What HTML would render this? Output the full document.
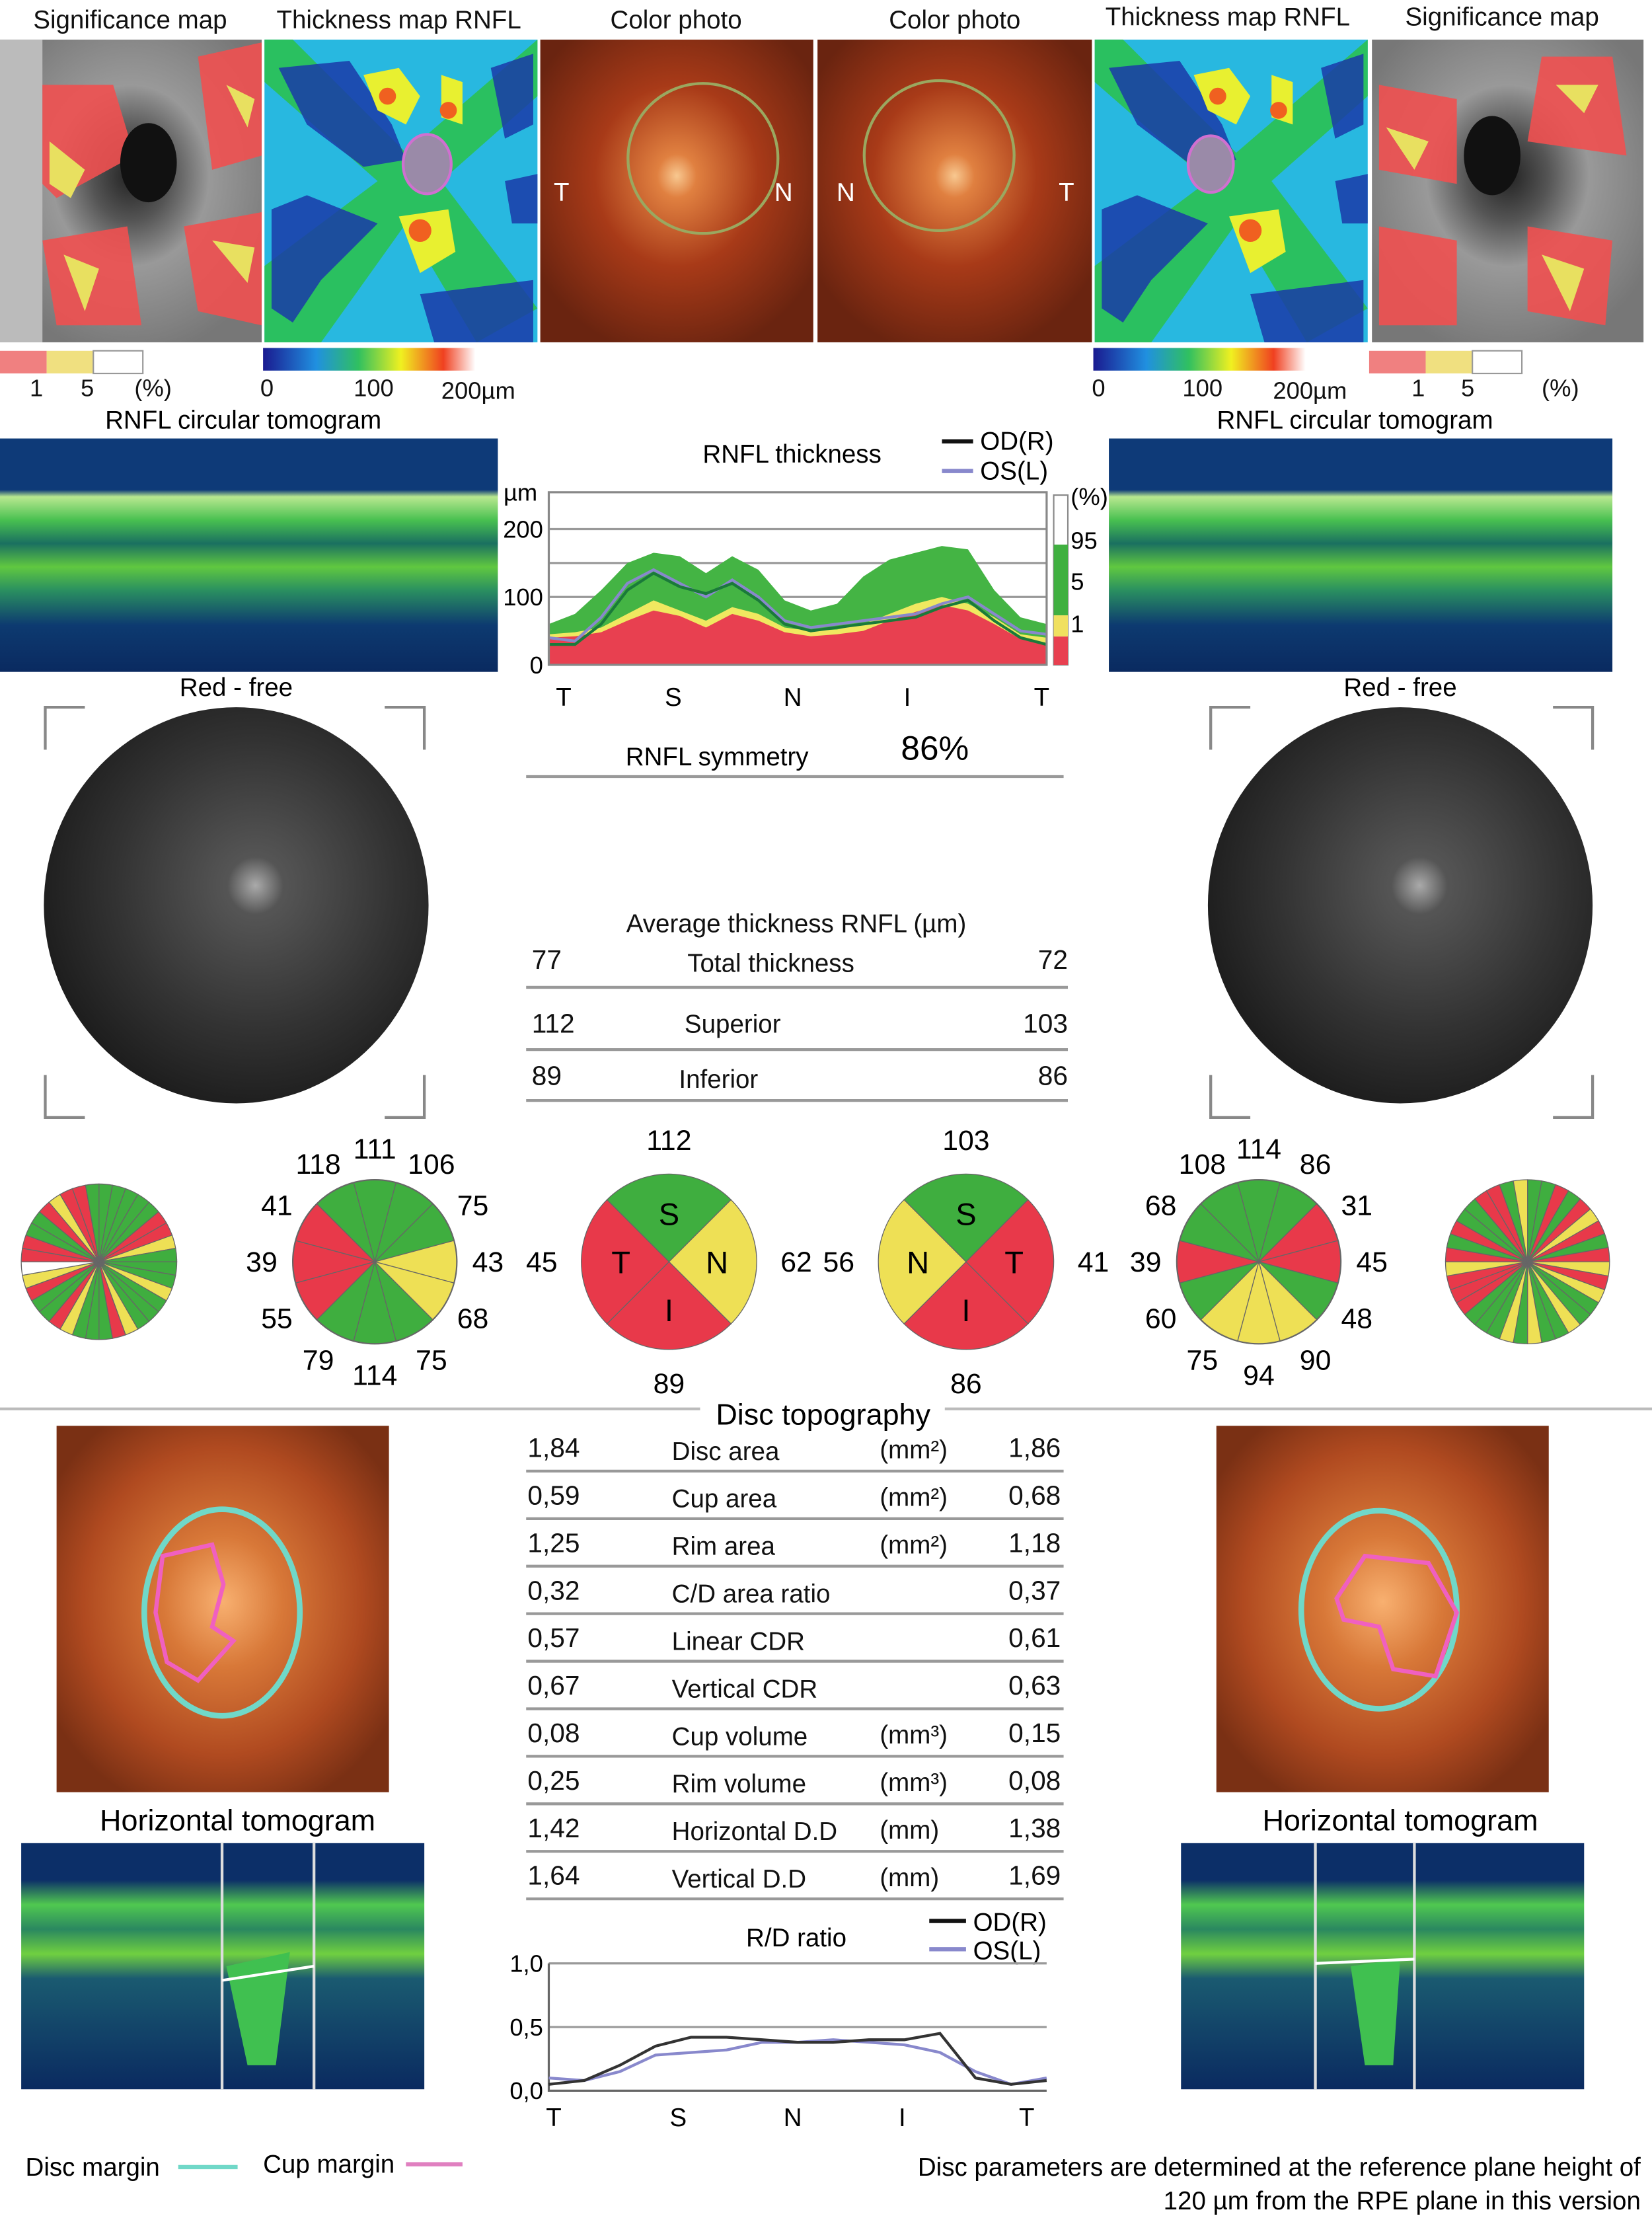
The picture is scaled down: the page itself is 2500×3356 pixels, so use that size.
<!DOCTYPE html>
<html><head><meta charset="utf-8"><style>
html,body{margin:0;padding:0;background:#fff}
svg{display:block;font-family:"Liberation Sans",sans-serif}
</style></head><body>
<svg id="page" width="2500" height="3356" viewBox="0 0 1168 1568" preserveAspectRatio="none">
<defs>
<radialGradient id="photo" cx="0.5" cy="0.45" r="0.6"><stop offset="0" stop-color="#f8c890"/><stop offset="0.12" stop-color="#e08040"/><stop offset="0.5" stop-color="#a83a18"/><stop offset="1" stop-color="#6a2410"/></radialGradient>
<radialGradient id="disc" cx="0.5" cy="0.48" r="0.6"><stop offset="0" stop-color="#f8b070"/><stop offset="0.3" stop-color="#d87838"/><stop offset="0.7" stop-color="#b04a20"/><stop offset="1" stop-color="#7a3014"/></radialGradient>
<radialGradient id="fund" cx="0.55" cy="0.45" r="0.6"><stop offset="0" stop-color="#aaa"/><stop offset="0.12" stop-color="#555"/><stop offset="0.6" stop-color="#333"/><stop offset="1" stop-color="#1a1a1a"/></radialGradient>
<radialGradient id="sig" cx="0.5" cy="0.45" r="0.6"><stop offset="0" stop-color="#222"/><stop offset="0.25" stop-color="#555"/><stop offset="0.5" stop-color="#999"/><stop offset="1" stop-color="#777"/></radialGradient>
<linearGradient id="tomo" x1="0" y1="0" x2="0" y2="1"><stop offset="0" stop-color="#0e3a78"/><stop offset="0.22" stop-color="#0e3a78"/><stop offset="0.25" stop-color="#b8e890"/><stop offset="0.35" stop-color="#48c050"/><stop offset="0.45" stop-color="#1a7060"/><stop offset="0.55" stop-color="#60c840"/><stop offset="0.65" stop-color="#2a9060"/><stop offset="0.8" stop-color="#0d3a70"/><stop offset="1" stop-color="#0a2a60"/></linearGradient>
<linearGradient id="htomo" x1="0" y1="0" x2="0" y2="1"><stop offset="0" stop-color="#0c2f68"/><stop offset="0.15" stop-color="#0c2f68"/><stop offset="0.25" stop-color="#50c850"/><stop offset="0.35" stop-color="#2a8860"/><stop offset="0.45" stop-color="#70d040"/><stop offset="0.55" stop-color="#1a5a70"/><stop offset="1" stop-color="#0a2a60"/></linearGradient>
<linearGradient id="cbar" x1="0" x2="1"><stop offset="0" stop-color="#1a1a90"/><stop offset="0.25" stop-color="#2090e0"/><stop offset="0.45" stop-color="#30c060"/><stop offset="0.65" stop-color="#f0f020"/><stop offset="0.85" stop-color="#f04020"/><stop offset="1" stop-color="#fff"/></linearGradient>
<g id="tmap">
<rect x="0" y="0" width="193" height="214" fill="#28b8e0"/>
<path d="M20 0 L100 80 L193 0 L193 40 L125 100 L193 190 L150 214 L100 130 L40 214 L0 214 L0 160 L80 100 L0 30 L0 0Z" fill="#2ac060"/>
<path d="M10 20 L60 15 L90 60 L100 85 L70 90 L30 60Z M5 120 L30 110 L80 130 L40 170 L20 200 L5 190Z M160 20 L190 10 L190 60 L170 70Z M110 180 L190 170 L190 214 L120 214Z M170 100 L193 95 L193 130 L175 130Z" fill="#1a3aa8" opacity="0.85"/>
<path d="M70 25 L95 20 L110 40 L100 60 L80 50Z M125 25 L140 30 L140 60 L125 55Z M95 125 L130 120 L135 150 L110 165Z" fill="#e8f030"/>
<circle cx="87" cy="40" r="6" fill="#f06020"/><circle cx="130" cy="50" r="6" fill="#f06020"/><circle cx="110" cy="135" r="8" fill="#f06020"/>
</g>
</defs>

<g font-size="18" fill="#111" text-anchor="middle">
<text x="92" y="20">Significance map</text>
<text x="282" y="20">Thickness map RNFL</text>
<text x="478" y="20">Color photo</text>
<text x="675" y="20">Color photo</text>
<text x="868" y="18">Thickness map RNFL</text>
<text x="1062" y="18">Significance map</text>
</g>

<g>
<rect x="0" y="28" width="185" height="214" fill="url(#sig)"/>
<rect x="0" y="28" width="30" height="214" fill="#bbb"/>
<path d="M30 60 L80 60 L95 110 L40 140 L30 130Z M140 40 L185 30 L185 110 L150 120Z M30 170 L90 160 L100 230 L40 230Z M130 160 L185 150 L185 230 L140 220Z" fill="#f05050" opacity="0.9"/>
<path d="M35 100 L60 120 L50 140 L35 130Z M45 180 L70 190 L60 220 Z M150 170 L180 175 L175 200Z M160 60 L180 70 L175 90Z" fill="#e8e060"/>
<ellipse cx="105" cy="115" rx="20" ry="28" fill="#111"/>
</g>
<g>
<use href="#tmap" x="187" y="28"/>
<ellipse cx="302" cy="116" rx="17" ry="21" fill="#9a8aa8" stroke="#d070d0" stroke-width="2"/>
</g>
<g>
<rect x="382" y="28" width="193" height="214" fill="url(#photo)"/>
<circle cx="497" cy="112" r="53" fill="none" stroke="#9aa860" stroke-width="2"/>
<text x="397" y="142" fill="#fff" font-size="18" text-anchor="middle">T</text>
<text x="554" y="142" fill="#fff" font-size="18" text-anchor="middle">N</text>
</g>
<g>
<rect x="578" y="28" width="194" height="214" fill="url(#photo)"/>
<circle cx="664" cy="110" r="53" fill="none" stroke="#9aa860" stroke-width="2"/>
<text x="598" y="142" fill="#fff" font-size="18" text-anchor="middle">N</text>
<text x="754" y="142" fill="#fff" font-size="18" text-anchor="middle">T</text>
</g>
<g>
<use href="#tmap" x="774" y="28"/>
<ellipse cx="856" cy="116" rx="16" ry="20" fill="#9a8aa8" stroke="#d070d0" stroke-width="2"/>
</g>
<g>
<rect x="970" y="28" width="192" height="214" fill="url(#sig)"/>
<path d="M975 60 L1030 70 L1030 130 L975 120Z M1090 40 L1140 40 L1150 110 L1080 100Z M975 160 L1030 170 L1030 230 L975 230Z M1080 160 L1140 170 L1135 230 L1080 220Z" fill="#f05050" opacity="0.9"/>
<path d="M980 90 L1010 100 L1000 120Z M1090 180 L1120 190 L1110 220Z M1100 60 L1130 60 L1120 80Z" fill="#e8e060"/>
<ellipse cx="1055" cy="110" rx="20" ry="28" fill="#111"/>
</g>

<g>
<rect x="0" y="248" width="33" height="16" fill="#f08080"/><rect x="33" y="248" width="33" height="16" fill="#f0e080"/><rect x="66" y="248" width="35" height="16" fill="#fff" stroke="#999"/>
<g font-size="17" fill="#111"><text x="21" y="280">1</text><text x="57" y="280">5</text><text x="95" y="280">(%)</text></g>
</g>
<g>
<rect x="186" y="246" width="150" height="16" fill="url(#cbar)"/>
<g font-size="17" fill="#111"><text x="184" y="280">0</text><text x="250" y="280">100</text><text x="312" y="282">200µm</text></g>
</g>
<g>
<rect x="773" y="246" width="150" height="16" fill="url(#cbar)"/>
<g font-size="17" fill="#111"><text x="772" y="280">0</text><text x="836" y="280">100</text><text x="900" y="282">200µm</text></g>
</g>
<g>
<rect x="968" y="248" width="40" height="16" fill="#f08080"/><rect x="1008" y="248" width="33" height="16" fill="#f0e080"/><rect x="1041" y="248" width="35" height="16" fill="#fff" stroke="#999"/>
<g font-size="17" fill="#111"><text x="998" y="280">1</text><text x="1033" y="280">5</text><text x="1090" y="280">(%)</text></g>
</g>

<text x="172" y="303" font-size="18" text-anchor="middle">RNFL circular tomogram</text>
<text x="958" y="303" font-size="18" text-anchor="middle">RNFL circular tomogram</text>
<rect x="0" y="310" width="352" height="165" fill="url(#tomo)"/>
<rect x="784" y="310" width="356" height="165" fill="url(#tomo)"/>

<g id="rnfl">
<text x="560" y="327" font-size="18" text-anchor="middle">RNFL thickness</text>
<line x1="666" y1="312" x2="688" y2="312" stroke="#111" stroke-width="3"/>
<text x="693" y="318" font-size="18">OD(R)</text>
<line x1="666" y1="333" x2="688" y2="333" stroke="#8888cc" stroke-width="3"/>
<text x="693" y="339" font-size="18">OS(L)</text>
<text x="356" y="354" font-size="17">µm</text>
<rect x="745" y="350" width="10" height="120" fill="none" stroke="#888"/>
<rect x="745" y="385" width="10" height="50" fill="#40b040"/><rect x="745" y="435" width="10" height="15" fill="#f0e060"/><rect x="745" y="450" width="10" height="20" fill="#e84050"/>
<g font-size="17"><text x="757" y="357">(%)</text><text x="757" y="388">95</text><text x="757" y="417">5</text><text x="757" y="447">1</text></g>
</g>

<text x="507" y="541" font-size="18" text-anchor="middle">RNFL symmetry</text>
<text x="661" y="537" font-size="24" text-anchor="middle">86%</text>
<line x1="372" y1="549" x2="752" y2="549" stroke="#999" stroke-width="2"/>

<g>
<text x="167" y="492" font-size="18" text-anchor="middle">Red - free</text>
<ellipse cx="167" cy="640" rx="136" ry="140" fill="url(#fund)"/>
<path d="M32 530 V500 H60 M272 500 H300 V530 M32 760 V790 H60 M272 790 H300 V760" fill="none" stroke="#888" stroke-width="2"/>
</g>
<g>
<text x="990" y="492" font-size="18" text-anchor="middle">Red - free</text>
<ellipse cx="990" cy="640" rx="136" ry="140" fill="url(#fund)"/>
<path d="M856 530 V500 H884 M1098 500 H1126 V530 M856 760 V790 H884 M1098 790 H1126 V760" fill="none" stroke="#888" stroke-width="2"/>
</g>

<g font-size="19" fill="#111">
<text x="563" y="659" text-anchor="middle" font-size="18">Average thickness RNFL (µm)</text>
<text x="376" y="685">77</text><text x="545" y="687" text-anchor="middle" font-size="18">Total thickness</text><text x="755" y="685" text-anchor="end">72</text>
<line x1="372" y1="698" x2="755" y2="698" stroke="#999" stroke-width="2"/>
<text x="376" y="730">112</text><text x="518" y="730" text-anchor="middle" font-size="18">Superior</text><text x="755" y="730" text-anchor="end">103</text>
<line x1="372" y1="742" x2="755" y2="742" stroke="#999" stroke-width="2"/>
<text x="376" y="767">89</text><text x="508" y="769" text-anchor="middle" font-size="18">Inferior</text><text x="755" y="767" text-anchor="end">86</text>
<line x1="372" y1="778" x2="755" y2="778" stroke="#999" stroke-width="2"/>
</g>

<g id="pies"></g>

<line x1="0" y1="996" x2="495" y2="996" stroke="#bbb" stroke-width="2"/>
<line x1="668" y1="996" x2="1168" y2="996" stroke="#bbb" stroke-width="2"/>
<text x="582" y="1007" font-size="21" text-anchor="middle">Disc topography</text>
<g id="disctable" font-size="19" fill="#111"></g>

<g>
<rect x="40" y="1008" width="235" height="259" fill="url(#disc)"/>
<ellipse cx="157" cy="1140" rx="55" ry="73" fill="none" stroke="#70d8c8" stroke-width="4"/>
<path d="M115 1100 L150 1092 L158 1120 L150 1150 L165 1160 L140 1188 L118 1175 L110 1140Z" fill="none" stroke="#f060c0" stroke-width="3"/>
</g>
<g>
<rect x="860" y="1008" width="235" height="259" fill="url(#disc)"/>
<ellipse cx="975" cy="1138" rx="55" ry="70" fill="none" stroke="#70d8c8" stroke-width="4"/>
<path d="M945 1130 L965 1100 L1010 1105 L1030 1140 L1015 1185 L985 1180 L975 1150 L950 1145Z" fill="none" stroke="#f060c0" stroke-width="3"/>
</g>
<text x="168" y="1294" font-size="21" text-anchor="middle">Horizontal tomogram</text>
<text x="990" y="1294" font-size="21" text-anchor="middle">Horizontal tomogram</text>
<g>
<rect x="15" y="1303" width="285" height="174" fill="url(#htomo)"/>
<path d="M160 1390 L175 1460 L195 1460 L205 1380 Z" fill="#40c050"/>
<line x1="157" y1="1303" x2="157" y2="1477" stroke="#ddd" stroke-width="2"/><line x1="222" y1="1303" x2="222" y2="1477" stroke="#ddd" stroke-width="2"/>
<line x1="157" y1="1400" x2="222" y2="1390" stroke="#fff" stroke-width="2"/>
</g>
<g>
<rect x="835" y="1303" width="285" height="174" fill="url(#htomo)"/>
<path d="M955 1390 L965 1460 L985 1460 L990 1385 Z" fill="#40c050"/>
<line x1="930" y1="1303" x2="930" y2="1477" stroke="#ddd" stroke-width="2"/><line x1="1000" y1="1303" x2="1000" y2="1477" stroke="#ddd" stroke-width="2"/>
<line x1="930" y1="1388" x2="1000" y2="1385" stroke="#fff" stroke-width="2"/>
</g>

<g id="rd">
<text x="563" y="1376" font-size="18" text-anchor="middle">R/D ratio</text>
<line x1="657" y1="1358" x2="683" y2="1358" stroke="#111" stroke-width="3"/>
<text x="688" y="1365" font-size="18">OD(R)</text>
<line x1="657" y1="1378" x2="683" y2="1378" stroke="#8888cc" stroke-width="3"/>
<text x="688" y="1385" font-size="18">OS(L)</text>
</g>

<text x="18" y="1538" font-size="18">Disc margin</text>
<line x1="126" y1="1532" x2="168" y2="1532" stroke="#70d8c8" stroke-width="3"/>
<text x="186" y="1536" font-size="18">Cup margin</text>
<line x1="287" y1="1530" x2="327" y2="1530" stroke="#e080c0" stroke-width="3"/>
<text x="1160" y="1538" font-size="18" text-anchor="end">Disc parameters are determined at the reference plane height of</text>
<text x="1160" y="1562" font-size="18" text-anchor="end">120 µm from the RPE plane in this version</text>
</svg>
<script>
var rnflGreen=[60,75,110,150,165,160,135,160,140,95,80,90,130,155,165,175,170,110,70,60];
var rnflYellow=[45,48,55,75,95,80,65,85,75,55,50,52,60,75,90,100,90,70,45,40];
var rnflRed=[40,42,48,65,80,72,55,75,65,48,42,45,50,65,78,88,80,60,38,30];
var rnflOD=[30,30,60,110,135,115,105,120,95,60,50,55,60,65,70,85,95,65,40,30];
var rnflOS=[40,35,70,120,140,120,100,125,100,65,55,60,65,70,75,90,100,75,50,45];
var rnflXTicks=["T","S","N","I","T"];
var rnflXTickPos=[0.03,0.25,0.49,0.72,0.99];
var rnflYTicks=[0,100,200];
var rdOD=[0.05,0.08,0.2,0.35,0.42,0.42,0.4,0.38,0.38,0.4,0.4,0.45,0.1,0.05,0.08];
var rdOS=[0.1,0.08,0.15,0.28,0.3,0.32,0.38,0.38,0.4,0.38,0.36,0.3,0.15,0.05,0.1];
var rdYTicks=["0,0","0,5","1,0"];
var rdYVals=[0,0.5,1];
var rdXTicks=["T","S","N","I","T"];
var rdXTickPos=[0.01,0.26,0.49,0.71,0.96];
var discLeft=["1,84","0,59","1,25","0,32","0,57","0,67","0,08","0,25","1,42","1,64"];
var discRight=["1,86","0,68","1,18","0,37","0,61","0,63","0,15","0,08","1,38","1,69"];
var discLabels=["Disc area","Cup area","Rim area","C/D area ratio","Linear CDR","Vertical CDR","Cup volume","Rim volume","Horizontal D.D","Vertical D.D"];
var discUnits=["(mm²)","(mm²)","(mm²)","","","","(mm³)","(mm³)","(mm)","(mm)"];
var pieODValues=[111,106,75,43,68,75,114,79,55,39,41,118];
var pieODColors=["G","G","G","Y","Y","G","G","G","R","R","R","G"];
var pieOSValues=[114,86,31,45,48,90,94,75,60,39,68,108];
var pieOSColors=["G","G","R","R","G","Y","Y","Y","G","R","G","G"];
var quadODValues=[112,62,89,45];
var quadODLabels=["S","N","I","T"];
var quadODColors=["G","Y","R","R"];
var quadOSValues=[103,41,86,56];
var quadOSLabels=["S","T","I","N"];
var quadOSColors=["G","R","R","Y"];
var smallODColors="GGGGGRRYGGGYGGGYRGGGYRGGRYWRRGGRYRRG";
var smallOSColors="GGRGRYRGRYRYGGYGGYGYGGGRRRYRGRGGRRGY";

var NS="http://www.w3.org/2000/svg";
function mk(t,a,p){var e=document.createElementNS(NS,t);for(var k in a)e.setAttribute(k,a[k]);p.appendChild(e);return e;}
var COL={G:"#3fae3f",Y:"#eee055",R:"#e8394a",W:"#fff"};

(function(){
var g=document.getElementById('rnfl');
var x0=388,x1=740,y0=470;
function xs(i){return x0+i*(x1-x0)/(rnflGreen.length-1);}
function ys(v){return y0-v*0.48;}
[50,100,150,200].forEach(function(v){var l=mk('line',{x1:x0,x2:x1,y1:ys(v),y2:ys(v),stroke:'#999','stroke-width':1.5},g);});
function area(arr,c,name){var d='M'+x0+' '+y0;arr.forEach(function(v,i){d+=' L'+xs(i)+' '+ys(v);});d+=' L'+x1+' '+y0+'Z';var p=mk('path',{d:d,fill:c},g);}
area(rnflGreen,'#44b444','rnfl-band-95');area(rnflYellow,'#f0e860','rnfl-band-5');area(rnflRed,'#e84050','rnfl-band-1');
function line(arr,c,name){var d='';arr.forEach(function(v,i){d+=(i?' L':'M')+xs(i)+' '+ys(v);});var p=mk('path',{d:d,fill:'none',stroke:c,'stroke-width':2},g);}
line(rnflOS,'#8888cc','rnfl-line-os');line(rnflOD,'#1a7a3a','rnfl-line-od');
var f=mk('rect',{x:x0,y:348,width:x1-x0,height:y0-348,fill:'none',stroke:'#888','stroke-width':1.5},g);
rnflYTicks.forEach(function(v){var t=mk('text',{x:384,y:ys(v)+6,'font-size':17,'text-anchor':'end'},g);t.textContent=v;});
rnflXTicks.forEach(function(s,i){var t=mk('text',{x:x0+rnflXTickPos[i]*(x1-x0),y:499,'font-size':18,'text-anchor':'middle'},g);t.textContent=s;});
})();

(function(){
var g=document.getElementById('rd');
var x0=388,x1=740,y0=1478;
function xs(i){return x0+i*(x1-x0)/(rdOD.length-1);}
function ys(v){return y0-v*90;}
rdYVals.forEach(function(v,i){if(v>0){var l=mk('line',{x1:x0,x2:x1,y1:ys(v),y2:ys(v),stroke:'#999','stroke-width':1.5},g);}
var t=mk('text',{x:384,y:ys(v)+6,'font-size':17,'text-anchor':'end'},g);t.textContent=rdYTicks[i];});
var a=mk('path',{d:'M'+x0+' '+ys(1)+' V'+y0+' H'+x1,fill:'none',stroke:'#666','stroke-width':1.5},g);
function line(arr,c,name){var d='';arr.forEach(function(v,i){d+=(i?' L':'M')+xs(i)+' '+ys(v);});var p=mk('path',{d:d,fill:'none',stroke:c,'stroke-width':2},g);}
line(rdOS,'#8888cc','rd-line-os');line(rdOD,'#333','rd-line-od');
rdXTicks.forEach(function(s,i){var t=mk('text',{x:x0+rdXTickPos[i]*(x1-x0),y:1503,'font-size':18,'text-anchor':'middle'},g);t.textContent=s;});
})();

(function(){
var g=document.getElementById('disctable');
discLeft.forEach(function(v,i){var y=1030+i*33.6;
var t=mk('text',{x:373,y:y},g);t.textContent=v;
t=mk('text',{x:475,y:y+2,'font-size':18},g);t.textContent=discLabels[i];
if(discUnits[i]){t=mk('text',{x:622,y:y+1,'font-size':18},g);t.textContent=discUnits[i];}
t=mk('text',{x:750,y:y,'text-anchor':'end'},g);t.textContent=discRight[i];
var l=mk('line',{x1:372,x2:752,y1:y+10,y2:y+10,stroke:'#999','stroke-width':2},g);});
})();

(function(){
var g=document.getElementById('pies');
function sect(cx,cy,r,a0,a1,c){var p0=[cx+r*Math.sin(a0),cy-r*Math.cos(a0)],p1=[cx+r*Math.sin(a1),cy-r*Math.cos(a1)];
return mk('path',{d:'M'+cx+' '+cy+' L'+p0[0]+' '+p0[1]+' A'+r+' '+r+' 0 0 1 '+p1[0]+' '+p1[1]+'Z',fill:c,stroke:'#666','stroke-width':0.6},g);}
function clock(cx,cy,r,vals,cols,name){var n=vals.length,s=2*Math.PI/n;
vals.forEach(function(v,i){var a=i*s-s/2;var p=sect(cx,cy,r,a,a+s,COL[cols[i]]);
var t=mk('text',{x:cx+(r+22)*Math.sin(i*s),y:cy-(r+22)*Math.cos(i*s)+7,'font-size':20,'text-anchor':'middle'},g);t.textContent=v;});
var c=mk('circle',{cx:cx,cy:cy,r:r,fill:'none',stroke:'#666'},g);}
clock(265,892,58,pieODValues,pieODColors,'clock-od');
clock(890,892,58,pieOSValues,pieOSColors,'clock-os');
function quad(cx,cy,r,vals,labs,cols,name){vals.forEach(function(v,i){var a=i*Math.PI/2-Math.PI/4;var p=sect(cx,cy,r,a,a+Math.PI/2,COL[cols[i]]);
var an=i*Math.PI/2;var t=mk('text',{x:cx+(r-28)*Math.sin(an),y:cy-(r-28)*Math.cos(an)+8,'font-size':22,'text-anchor':'middle'},g);t.textContent=labs[i];
t=mk('text',{x:cx+(r+28)*Math.sin(an),y:cy-(r+24)*Math.cos(an)+7,'font-size':20,'text-anchor':'middle'},g);t.textContent=v;});}
quad(473,892,62,quadODValues,quadODLabels,quadODColors,'quadrant-od');
quad(683,892,62,quadOSValues,quadOSLabels,quadOSColors,'quadrant-os');
function small(cx,cy,r,cols,name){var n=cols.length,s=2*Math.PI/n;for(var i=0;i<n;i++){var p=sect(cx,cy,r,i*s,(i+1)*s,COL[cols[i]]);}}
small(70,892,55,smallODColors,'small-sector-od');
small(1080,892,58,smallOSColors,'small-sector-os');
})();
</script>
</body></html>
